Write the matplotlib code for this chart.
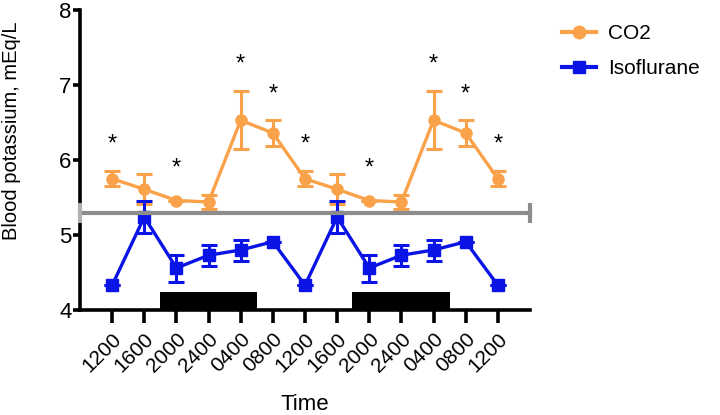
import matplotlib
matplotlib.use('Agg')
import matplotlib.pyplot as plt
from matplotlib.lines import Line2D
import numpy as np

plt.rcParams['font.family'] = ['Liberation Sans', 'DejaVu Sans']

times = ['1200', '1600', '2000', '2400', '0400', '0800', '1200',
         '1600', '2000', '2400', '0400', '0800', '1200']

co2 = [5.75, 5.61, 5.46, 5.44, 6.53, 6.36, 5.75, 5.61, 5.46, 5.44, 6.53, 6.36, 5.75]
co2_err = [0.10, 0.20, 0.0, 0.10, 0.39, 0.17, 0.10, 0.20, 0.0, 0.10, 0.39, 0.17, 0.10]

iso = [4.33, 5.24, 4.56, 4.73, 4.80, 4.91, 4.33, 5.24, 4.56, 4.73, 4.80, 4.91, 4.33]
iso_err = [0.0, 0.21, 0.18, 0.14, 0.14, 0.0, 0.0, 0.21, 0.18, 0.14, 0.14, 0.0, 0.0]

# significance stars: (index, height)
star_x = [0, 2, 4, 5, 6, 8, 10, 11, 12]
star_y = [6.20, 5.89, 7.27, 6.87, 6.20, 5.89, 7.27, 6.87, 6.20]

baseline = 5.29

# dark periods
night_start = [1.5, 7.45]
night_end = [4.5, 10.5]
night_h = 0.24

orange = '#F9A24A'
blue = '#0A14E6'

fig = plt.figure(figsize=(7.2, 4.15), dpi=100)
ax = fig.add_axes([80/720, 1 - 310/415, 450/720, 300/415])

x = np.arange(len(times))

ax.errorbar(x, co2, yerr=co2_err, color=orange, lw=2.4, marker='o', ms=8,
            capsize=6, capthick=2.2, elinewidth=2.2, zorder=3)
ax.errorbar(x, iso, yerr=iso_err, color=blue, lw=2.4, marker='s', ms=8.5,
            capsize=6, capthick=2.2, elinewidth=2.2, zorder=4)

ax.plot([-1, 13], [baseline, baseline], color='#8C8C8C', lw=3, zorder=5, clip_on=False)
ax.plot([13], [baseline], color='#8C8C8C', marker='|', ms=14, mew=3, zorder=5, clip_on=False)
ax.plot([-1], [baseline], color='#B0B0B0', marker='|', ms=14, mew=3, zorder=5, clip_on=False)

for s, e in zip(night_start, night_end):
    ax.bar(s, night_h, width=e - s, bottom=4, align='edge', color='black', zorder=2)

for sx, sy in zip(star_x, star_y):
    ax.text(sx, sy, '*', ha='center', va='center', fontsize=17)

ax.set_xlim(-1, 13)
ax.set_ylim(4, 8)
ax.set_yticks([4, 5, 6, 7, 8])
ax.set_xticks(x)
ax.set_xticklabels(times, rotation=45, ha='right', va='top', rotation_mode='anchor')

for sp in ['top', 'right']:
    ax.spines[sp].set_visible(False)
for sp in ['left', 'bottom']:
    ax.spines[sp].set_linewidth(2.6)

ax.tick_params(axis='y', length=5, width=2.6, labelsize=16, pad=1)
ax.tick_params(axis='x', length=9, width=2.6, labelsize=15, pad=5)

ax.set_ylabel('Blood potassium, mEq/L', fontsize=14.5)
ax.yaxis.set_label_coords(-0.132, 0.597)
ax.set_xlabel('Time', fontsize=16)
ax.xaxis.set_label_coords(0.5, -0.28)

handles = [Line2D([], [], color=orange, lw=3, marker='o', ms=9),
           Line2D([], [], color=blue, lw=3, marker='s', ms=9)]
ax.legend(handles, ['CO2', 'Isoflurane'], loc='upper left',
          bbox_to_anchor=(1.03, 1.015), frameon=False,
          fontsize=15, handlelength=1.6, labelspacing=0.75, handletextpad=0.6)

fig.savefig('out.png', dpi=100)
